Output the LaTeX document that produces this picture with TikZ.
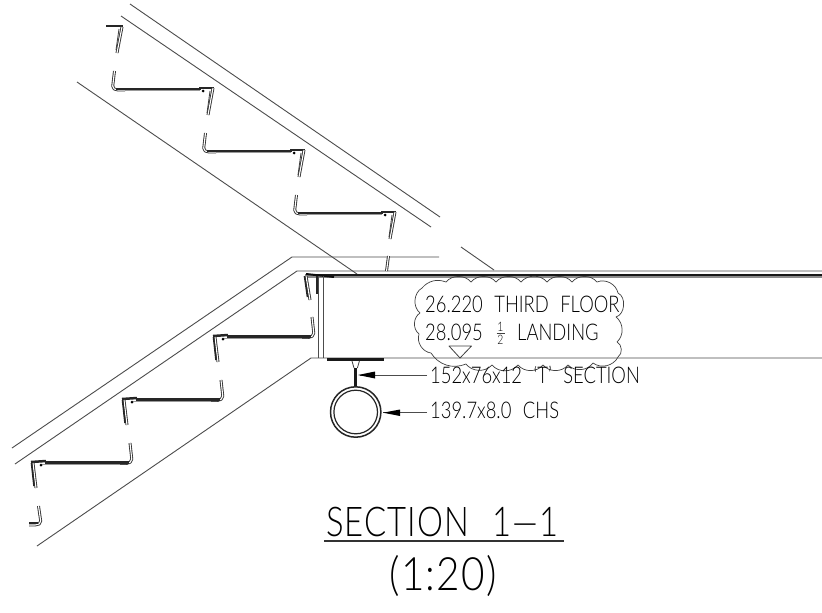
\documentclass[tikz,border=0pt]{standalone}
\usepackage{fontspec}
\setmainfont{Lato Light}
\newfontfamily\cad[FakeStretch=0.8,WordSpace=2.3]{Lato Light}
\newfontfamily\cadt[FakeStretch=0.8,WordSpace=2.2,LetterSpace=2.5]{Lato Light}
\newfontfamily\cads[FakeStretch=0.88,LetterSpace=3]{Lato Light}
\tikzset{
  thinline/.style={draw=black!70,line width=0.9pt},
  lbl/.style={inner sep=0pt,anchor=base west,text=black,font=\cad\fontsize{23}{23}\selectfont},
  ttl/.style={inner sep=0pt,anchor=base west,text=black,font=\cadt\fontsize{41}{41}\selectfont},
  scl/.style={inner sep=0pt,anchor=base west,text=black,font=\cads\fontsize{46}{46}\selectfont},
  bar/.style={draw=black!85,line width=2.5pt},
  shade/.style={draw=black!40,line width=1.8pt},
  sheet/.style={draw=black!75,line width=0.8pt,line join=round},
  strip/.style={draw=black!80,line width=0.9pt,double=white,double distance=1.1pt,rounded corners=2pt,line join=round},
  frac/.style={inner sep=0pt,text=black,font=\cad\fontsize{13}{13}\selectfont},
}
\begin{document}
\begin{tikzpicture}[x=1pt,y=-1pt]
\useasboundingbox (0,0) rectangle (822,613);
\fill[white] (0,0) rectangle (822,613);
% stair lines
\draw[thinline] (130,4) -- (440,217);
\draw[thinline] (461,247) -- (494,270);
\draw[thinline] (121,16) -- (431,227);
\draw[thinline] (77,82) -- (357,274);
\draw[thinline] (12,448) -- (292,257) -- (439,257);
\draw[thinline] (15,464) -- (297,271) -- (822,271);
\draw[thinline] (37,546) -- (311,358) -- (822,358);
% floor
\draw[draw=black!45,line width=4pt] (305,275.5) -- (822,275.5);
\draw[draw=black!90,line width=2pt] (317,275) -- (822,275);
\draw[draw=black!95,line width=2pt] (306,274) -- (334,277);
% web
\draw[thinline] (318,276) -- (318,358);
\draw[thinline] (323,276) -- (323,358);
\draw[draw=black!85,line width=1.6pt] (317,276) -- (317,294);
% small post
\draw[strip] (386.5,271) -- (388.5,256);
% upper treads
\foreach \dx/\dy in {0/0,91/62,182/124}{
\begin{scope}[shift={(\dx,\dy)}]
\draw[shade] (115,90.5) -- (200,90.5);
\draw[strip] (114.5,71) -- (112.5,88) -- (116,90) -- (125,90);
\draw[bar] (116,89) -- (201,89);
\draw[bar] (199,88) -- (214,88);
\draw[strip] (213,88) -- (208,115);
\draw[sheet] (210,91) -- (207,113);
\fill[black] (203,91) circle (1.5);
\end{scope}}
\draw[bar] (106,26) -- (123,26);
\draw[strip] (122,27) -- (117,53);
\draw[sheet] (119,29) -- (116,50);
% lower treads
\foreach \dx/\dy in {0/0,91/-63,182/-126}{
\begin{scope}[shift={(\dx,\dy)}]
\draw[shade] (128,464.5) -- (42,464.5);
\draw[strip] (130,443) -- (132,461) -- (128,463.5) -- (120,463.5);
\draw[bar] (129,462.5) -- (45,462.5);
\draw[bar] (31,462) -- (46,461);
\draw[strip] (33,463) -- (36,488);
\draw[draw=black!85,line width=1.6pt] (31.5,463) -- (34,486);
\fill[black] (41,465) circle (1.5);
\end{scope}}
% bottom riser piece
\draw[strip] (38.5,506) -- (41,523) -- (37,525) -- (29,525);
\draw[bar] (29,523) -- (38,523);
% top lower-flight piece
\draw[strip] (306,276) -- (310,300);
\draw[draw=black!85,line width=1.6pt] (304.5,276) -- (307.5,297);
% T section
\draw[draw=black!90,line width=3pt] (327,359.5) -- (384,359.5);
\draw[draw=black!90,line width=3.4pt] (355.7,368) -- (355.7,386);
\draw[sheet] (352,361) -- (354,368);
\draw[sheet] (359.4,361) -- (357.4,368);
% CHS
\draw[draw=black!85,line width=1.5pt] (355.7,412) circle (25.2);
\draw[draw=black!85,line width=1.2pt] (355.7,412) circle (21.8);
% leaders
\coordinate (a1) at (427,375);
\coordinate (a2) at (427,412.7);
\draw[thinline] (a1) -- (360,375);
\fill[black] (358,375) -- (375,371.5) -- (375,378.5) -- cycle;
\draw[thinline] (a2) -- (383,412.7);
\fill[black] (383,412.7) -- (400,409.5) -- (400,416) -- cycle;
% cloud
\draw[sheet,line width=0.7pt]
 (422,288) to[bend left=35] (446,282) to[bend left=50] (471,282)
 to[bend left=50] (496,282) to[bend left=50] (521,282)
 to[bend left=50] (547,282) to[bend left=50] (572,282)
 to[bend left=50] (597,282) to[bend left=50] (618,293)
 to[bend left=70] (616,317) to[bend left=50] (617,342)
 to[bend left=60] (618,357) to[bend left=50] (593,363)
 to[bend left=50] (568,365) to[bend left=50] (543,365)
 to[bend left=50] (518,365) to[bend left=50] (492,365)
 to[bend left=50] (466,364) to[bend left=40] (431,353)
 to[bend left=50] (419,334) to[bend left=55] (420,313)
 to[bend left=55] cycle;
% elevation triangle
\draw[sheet] (449,346) -- (471.5,346) -- (460,358) -- cycle;
% labels
\node[lbl] (t1) at (425,312) {26.220 THIRD FLOOR};
\node[lbl] (t2) at (425,340) {28.095};
\node[frac] (h1) at (500.5,326.5) {1};
\draw[draw=black!75,line width=0.6pt] (496.5,333) -- (504.5,333);
\node[frac] (h2) at (500.5,340) {2};
\node[lbl] (t3) at (517,340) {LANDING};
\node[lbl] (t4) at (430,383) {152x76x12 ‘T’ SECTION};
\node[lbl] (t5) at (430,418) {139.7x8.0 CHS};
\node[ttl] (t6) at (326,536) {SECTION\hspace{24pt}1—1};
\draw[draw=black!80,line width=1.6pt] (324,541) -- (564,541);
\node[scl] (t7) at (389,590) {(1:20)};
\end{tikzpicture}
\end{document}
